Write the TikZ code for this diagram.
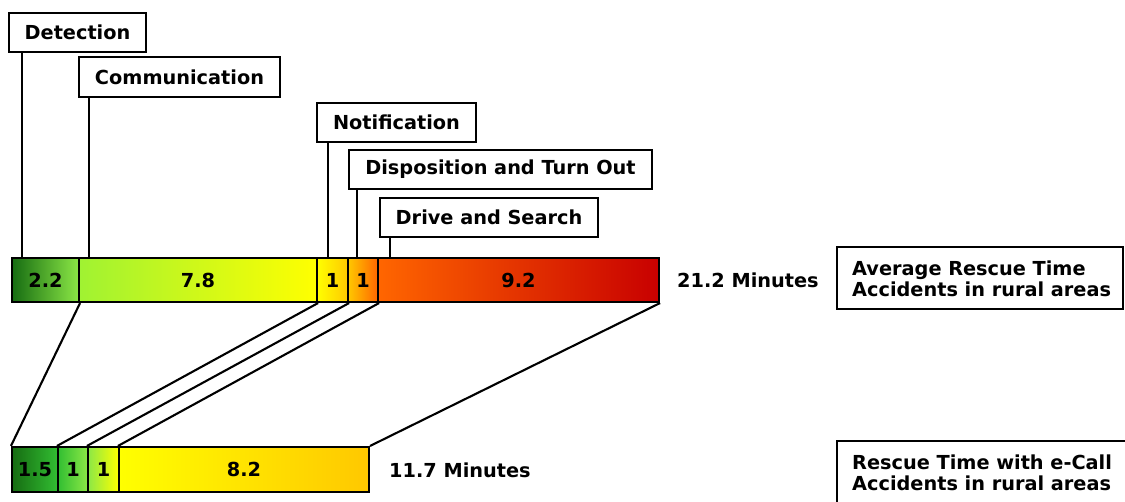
\documentclass[tikz,border=0pt]{standalone}
\usepackage{fontspec}
\setmainfont{DejaVu Sans}
\definecolor{dgreen}{RGB}{22,108,18}
\definecolor{lgreen}{RGB}{140,232,70}
\definecolor{ygreen}{RGB}{160,242,50}
\definecolor{mgreen}{RGB}{50,190,50}
\definecolor{pyellow}{RGB}{255,255,0}
\definecolor{gold}{RGB}{255,200,0}
\definecolor{orng}{RGB}{255,102,0}
\definecolor{dred}{RGB}{200,0,0}
\begin{document}
\begin{tikzpicture}[x=1pt,y=-1pt,
  every node/.style={font=\fontsize{19.3}{21.5}\selectfont\bfseries},
  seg/.style={draw=black, line width=2.1pt, inner sep=0pt, minimum height=44, rectangle},
  lbl/.style={draw=black, line width=2.1pt, fill=white, inner sep=0pt, minimum height=39, rectangle},
  conn/.style={line width=2.1pt, black}]
\clip (0,0) rectangle (1125,501);
% top bar
\node[seg, minimum width=67, left color=dgreen, right color=lgreen] (t1) at (45.5,280) {2.2};
\node[seg, minimum width=238, left color=ygreen, right color=pyellow] (t2) at (198,280) {7.8};
\node[seg, minimum width=31, left color=pyellow, right color=gold] (t3) at (332.5,280) {1};
\node[seg, minimum width=30, left color=gold, right color=orng] (t4) at (363,280) {1};
\node[seg, minimum width=281, left color=orng, right color=dred] (t5) at (518.5,280) {9.2};
% bottom bar
\node[seg, minimum height=45, minimum width=46, left color=dgreen, right color=mgreen] (b1) at (35,469.5) {1.5};
\node[seg, minimum height=45, minimum width=30, left color=mgreen, right color=lgreen] (b2) at (73,469.5) {1};
\node[seg, minimum height=45, minimum width=31, left color=lgreen, right color=pyellow] (b3) at (103.5,469.5) {1};
\node[seg, minimum height=45, minimum width=250, left color=pyellow, right color=gold] (b4) at (244,469.5) {8.2};
% connectors between bars
\draw[conn] (t1.south east) -- (b1.north west);
\draw[conn] (t2.south east) -- (b2.north west);
\draw[conn] (t3.south east) -- (b3.north west);
\draw[conn] (t4.south east) -- (b4.north west);
\draw[conn] (t5.south east) -- (b4.north east);
% phase labels
\node[lbl, minimum width=137] (det) at (77.5,32.5) {Detection};
\node[lbl, minimum width=201, minimum height=40] (com) at (179.5,77) {Communication};
\node[lbl, minimum width=159] (not) at (396.5,122.5) {Notification};
\node[lbl, minimum width=303] (dis) at (500.5,169.5) {Disposition and Turn Out};
\node[lbl, minimum width=218] (drv) at (489,217.5) {Drive and Search};
\draw[conn] ([xshift=14pt]det.south west) -- ([xshift=14pt]det.south west |- t1.north);
\draw[conn] ([xshift=11pt]com.south west) -- ([xshift=11pt]com.south west |- t2.north);
\draw[conn] ([xshift=12pt]not.south west) -- ([xshift=12pt]not.south west |- t3.north);
\draw[conn] ([xshift=9pt]dis.south west) -- ([xshift=9pt]dis.south west |- t4.north);
\draw[conn] ([xshift=11pt]drv.south west) -- ([xshift=11pt]drv.south west |- t5.north);
% totals
\node[anchor=west, inner sep=0pt] (tot1) at (677,280) {21.2 Minutes};
\node[anchor=west, inner sep=0pt] (tot2) at (389,470) {11.7 Minutes};
% legends
\node[draw=black, line width=2.1pt, minimum width=286, minimum height=62, inner sep=0pt] (leg1) at (980,278) {};
\node[anchor=west, align=left, inner sep=0pt] (leg1t) at (852,279) {Average Rescue Time\\Accidents in rural areas};
\draw[line width=2.1pt] (837,520) -- (837,441) -- (1140,441);
\node[anchor=west, align=left, inner sep=0pt] (leg2t) at (852,473) {Rescue Time with e-Call\\Accidents in rural areas};
\end{tikzpicture}
\end{document}
